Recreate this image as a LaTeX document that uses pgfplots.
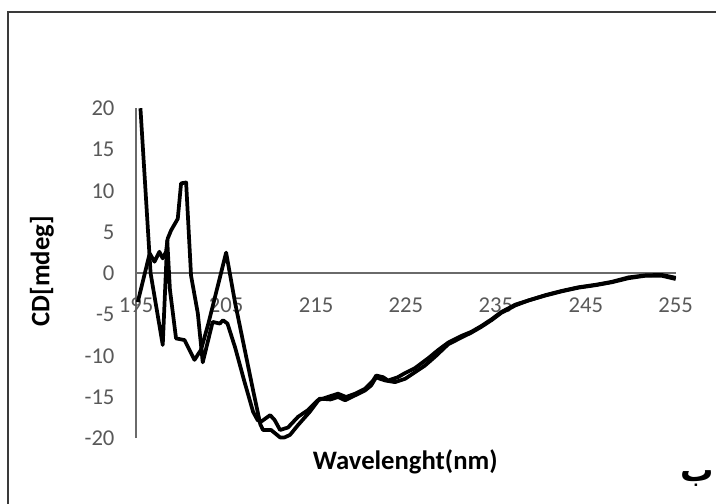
\documentclass[border=0pt]{standalone}
\usepackage{pgfplots}
\pgfplotsset{compat=1.18}
\usepackage{fontspec}
\setmainfont{Carlito}
\newfontfamily\arabicfont[Script=Arabic]{DejaVu Sans}
\TeXXeTstate=1
\definecolor{tickgray}{HTML}{595959}
\definecolor{axgray}{HTML}{6A6A6A}
\definecolor{framegray}{HTML}{3A3A3A}
\pgfplotstableread{
x y
195.47 20
196.6 0
197.95 -8.7
198.45 4.0
198.75 -2.0
199.43 -7.9
200.37 -8.1
201.48 -10.5
202.2 -9.3
203.0 -6.2
205.0 2.5
206.0 -3.6
207.0 -8.9
208.0 -14.2
208.8 -18.3
209.1 -19.0
210.0 -19.0
211.0 -19.9
211.5 -19.9
212.1 -19.6
213.0 -18.4
214.3 -16.8
215.4 -15.2
216.6 -15.3
217.45 -15.0
218.23 -15.4
219.35 -14.8
220.46 -14.2
221.13 -13.6
221.69 -12.6
222.13 -12.8
222.69 -13.0
223.8 -13.2
224.9 -12.8
226.0 -12.0
227.1 -11.2
228.26 -10.1
229.71 -8.6
231.16 -7.8
232.27 -7.2
233.38 -6.5
234.5 -5.7
235.61 -4.8
237.17 -3.9
238.62 -3.3
240.52 -2.7
242.3 -2.2
244.19 -1.75
246.09 -1.45
247.87 -1.1
249.76 -0.6
251.66 -0.3
253.44 -0.3
255 -0.7
}\curveA
\pgfplotstableread{
x y
195.17 -3.5
196.5 2.4
197.03 1.4
197.58 2.6
197.95 1.8
198.32 2.6
198.5 4.2
198.88 5.2
199.62 6.6
199.99 10.9
200.55 11.0
201.1 -0.3
201.85 -4.85
202.4 -10.8
203.5 -5.9
204.3 -6.1
204.65 -5.7
205.15 -6.1
206.0 -9.0
207.0 -13.0
208.0 -16.8
208.5 -17.8
208.87 -18.0
209.9 -17.2
210.4 -17.8
211.0 -19.0
211.88 -18.7
213.0 -17.4
214.1 -16.6
215.2 -15.4
216.3 -15.0
217.45 -14.6
218.34 -15.0
219.35 -14.6
220.46 -14.0
221.35 -13.0
221.69 -12.4
222.46 -12.6
223.0 -13.0
224.1 -12.6
224.9 -12.1
226.0 -11.5
227.48 -10.3
228.59 -9.3
229.71 -8.4
231.16 -7.6
232.27 -7.1
233.38 -6.4
234.5 -5.6
235.61 -4.7
237.17 -3.8
238.62 -3.3
240.52 -2.65
242.3 -2.15
244.19 -1.7
246.09 -1.4
247.87 -1.05
249.76 -0.5
251.66 -0.25
253.44 -0.2
255 -0.55
}\curveB
\begin{document}
\begin{tikzpicture}[x=0.75pt,y=0.75pt]
\begin{axis}[
  at={(151.5,78.5)}, anchor=south west,
  scale only axis,
  width=404.6pt, height=247.5pt,
  xmin=195, xmax=255, ymin=-20, ymax=20,
  axis x line=middle, axis y line=left,
  axis line style={-, draw=axgray, line width=1.2pt},
  every inner x axis line/.append style={-},
  every outer y axis line/.append style={-},
  hide obscured x ticks=false, hide obscured y ticks=false,
  xtick={195,205,...,255}, ytick={-20,-15,...,20},
  major tick length=0pt,
  /pgf/number format/assume math mode=true,
  tick label style={font=\fontsize{17}{20}\selectfont, text=tickgray, inner sep=0pt},
  xticklabel style={anchor=center, yshift=-24pt},
  yticklabel style={anchor=east, xshift=-16.1pt},
  xlabel={Wavelenght(nm)},
  xlabel style={at={(axis description cs:0.4986,-0.0727)}, anchor=center, font=\fontsize{20}{24}\selectfont\bfseries},
  ylabel={CD[mdeg]},
  ylabel style={at={(axis description cs:-0.175,0.506)}, anchor=center, rotate=0, font=\fontsize{20}{24}\selectfont\bfseries},
  clip=false,
]
\addplot[black, line width=2.8pt, line join=round, no marks] table[x=x,y=y] {\curveA};
\addplot[black, line width=2.8pt, line join=round, no marks] table[x=x,y=y] {\curveB};
\end{axis}
\draw[framegray, line width=1.5pt] (8,-20) -- (8,491) -- (740,491);
\node[anchor=base east, inner sep=0pt, font=\arabicfont\bfseries\fontsize{25}{30}\selectfont] at (714,22) {\beginR ب\endR};
\pgfresetboundingbox
\useasboundingbox (0,0) rectangle (716,503);
\end{tikzpicture}
\end{document}
